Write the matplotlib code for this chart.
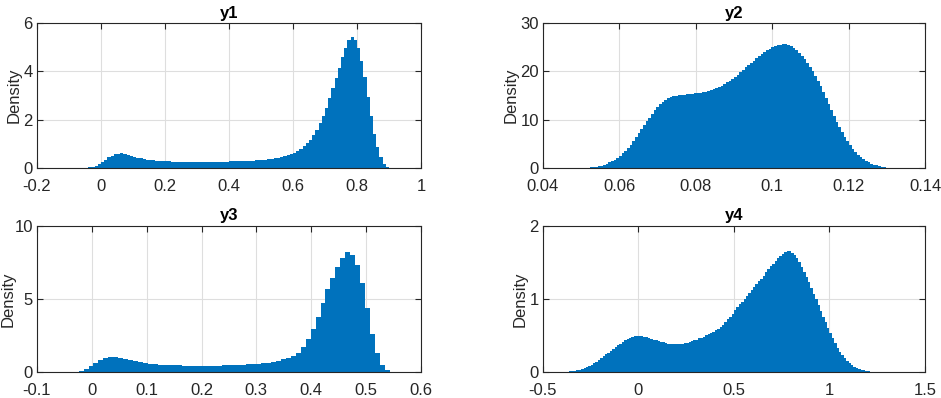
import numpy as np
import matplotlib
matplotlib.use('Agg')
import matplotlib.pyplot as plt

plt.rcParams['font.family'] = ['Liberation Sans', 'DejaVu Sans']
plt.rcParams['axes.unicode_minus'] = False

# ---- data (bin heights, density) ----
# y1: bins of 0.01 from -0.05
y1_start, y1_width = -0.05, 0.01
y1_heights = [
    0.01, 0.02, 0.04, 0.08, 0.15, 0.25, 0.35, 0.44, 0.51, 0.56,
    0.59, 0.60, 0.58, 0.55, 0.51, 0.47, 0.43, 0.40, 0.37, 0.35,
    0.33, 0.31, 0.30, 0.29, 0.28, 0.27, 0.27, 0.26, 0.26, 0.26,
    0.25, 0.25, 0.25, 0.25, 0.25, 0.25, 0.25, 0.25, 0.25, 0.25,
    0.25, 0.25, 0.26, 0.26, 0.26, 0.27, 0.27, 0.27, 0.28, 0.28,
    0.29, 0.29, 0.30, 0.31, 0.32, 0.33, 0.34, 0.36, 0.38, 0.40,
    0.42, 0.45, 0.49, 0.53, 0.58, 0.64, 0.72, 0.80, 0.90, 1.02,
    1.17, 1.35, 1.58, 1.85, 2.15, 2.50, 2.88, 3.30, 3.72, 4.15,
    4.58, 4.98, 5.28, 5.42, 5.30, 4.95, 4.45, 3.75, 2.95, 2.15,
    1.40, 0.85, 0.45, 0.18, 0.05,
]

# y2: bins of 0.0007 from 0.0515
y2_start, y2_width = 0.0515, 0.0007
y2_heights = [
    0.07, 0.13, 0.20, 0.28, 0.38, 0.50, 0.68, 0.90, 1.15, 1.42,
    1.72, 2.10, 2.55, 3.05, 3.55, 4.15, 4.85, 5.65, 6.45, 7.25,
    8.05, 8.85, 9.65, 10.40, 11.20, 11.95, 12.60, 13.20, 13.75, 14.15,
    14.45, 14.70, 14.85, 15.00, 15.10, 15.15, 15.20, 15.25, 15.30, 15.35,
    15.45, 15.50, 15.55, 15.65, 15.75, 15.90, 16.05, 16.25, 16.50, 16.75,
    17.05, 17.35, 17.70, 18.05, 18.45, 18.90, 19.35, 19.85, 20.35, 20.85,
    21.30, 21.80, 22.25, 22.70, 23.15, 23.60, 24.00, 24.35, 24.65, 24.95,
    25.20, 25.40, 25.50, 25.60, 25.60, 25.50, 25.25, 24.85, 24.35, 23.80,
    23.20, 22.55, 21.80, 21.00, 20.10, 19.10, 18.00, 16.90, 15.75, 14.55,
    13.30, 12.05, 10.80, 9.60, 8.45, 7.40, 6.40, 5.50, 4.70, 3.95,
    3.30, 2.75, 2.25, 1.85, 1.50, 1.20, 0.92, 0.70, 0.52, 0.37,
    0.25, 0.15, 0.07,
]

# y3: bins of 0.009 from -0.033
y3_start, y3_width = -0.033, 0.009
y3_heights = [
    0.03, 0.08, 0.20, 0.38, 0.60, 0.80, 0.95, 1.03, 1.03, 0.98,
    0.90, 0.82, 0.74, 0.67, 0.61, 0.57, 0.54, 0.51, 0.49, 0.47,
    0.46, 0.45, 0.44, 0.43, 0.43, 0.42, 0.42, 0.43, 0.43, 0.44,
    0.45, 0.46, 0.47, 0.48, 0.50, 0.52, 0.54, 0.57, 0.61, 0.65,
    0.71, 0.78, 0.87, 0.98, 1.12, 1.30, 1.70, 2.25, 2.95, 3.80,
    4.75, 5.65, 6.45, 7.20, 7.80, 8.20, 8.00, 7.35, 6.10, 4.40,
    2.60, 1.30, 0.50, 0.14, 0.03,
]

# y4: bins of 0.0125 from -0.3625
y4_start, y4_width = -0.3625, 0.0125
y4_heights = [
    0.010, 0.012, 0.018, 0.025, 0.033, 0.043, 0.055, 0.070, 0.085, 0.100,
    0.120, 0.140, 0.165, 0.190, 0.215, 0.240, 0.265, 0.290, 0.315, 0.340,
    0.365, 0.390, 0.415, 0.435, 0.455, 0.470, 0.480, 0.490, 0.495, 0.495,
    0.490, 0.485, 0.475, 0.465, 0.455, 0.445, 0.435, 0.425, 0.415, 0.405,
    0.395, 0.390, 0.385, 0.380, 0.380, 0.380, 0.385, 0.390, 0.395, 0.400,
    0.410, 0.420, 0.435, 0.445, 0.460, 0.470, 0.485, 0.500, 0.515, 0.530,
    0.550, 0.570, 0.595, 0.620, 0.650, 0.685, 0.720, 0.760, 0.800, 0.845,
    0.885, 0.925, 0.965, 1.005, 1.045, 1.080, 1.120, 1.160, 1.200, 1.240,
    1.280, 1.320, 1.365, 1.405, 1.445, 1.480, 1.520, 1.555, 1.590, 1.620,
    1.645, 1.660, 1.655, 1.635, 1.600, 1.555, 1.500, 1.440, 1.375, 1.305,
    1.230, 1.155, 1.075, 0.995, 0.915, 0.835, 0.755, 0.680, 0.600, 0.530,
    0.460, 0.395, 0.335, 0.280, 0.230, 0.185, 0.150, 0.120, 0.095, 0.072,
    0.055, 0.040, 0.030, 0.022, 0.015, 0.010, 0.006, 0.003,
]

titles = ['y1', 'y2', 'y3', 'y4']
x_ticks = [
    [-0.2, 0, 0.2, 0.4, 0.6, 0.8, 1],
    [0.04, 0.06, 0.08, 0.1, 0.12, 0.14],
    [-0.1, 0, 0.1, 0.2, 0.3, 0.4, 0.5, 0.6],
    [-0.5, 0, 0.5, 1, 1.5],
]
x_labels = [
    ['-0.2', '0', '0.2', '0.4', '0.6', '0.8', '1'],
    ['0.04', '0.06', '0.08', '0.1', '0.12', '0.14'],
    ['-0.1', '0', '0.1', '0.2', '0.3', '0.4', '0.5', '0.6'],
    ['-0.5', '0', '0.5', '1', '1.5'],
]
y_ticks = [[0, 2, 4, 6], [0, 10, 20, 30], [0, 5, 10], [0, 1, 2]]

series = [
    (y1_start, y1_width, y1_heights),
    (y2_start, y2_width, y2_heights),
    (y3_start, y3_width, y3_heights),
    (y4_start, y4_width, y4_heights),
]

bar_color = '#0072BD'
txt_color = '#262626'

fig = plt.figure(figsize=(9.41, 3.98), dpi=100)
rects = [
    [0.0393, 0.578, 0.408, 0.364],
    [0.577, 0.578, 0.406, 0.364],
    [0.0393, 0.0653, 0.408, 0.367],
    [0.577, 0.0653, 0.406, 0.367],
]

for k in range(4):
    ax = fig.add_axes(rects[k])
    start, width, heights = series[k]
    edges = start + width * np.arange(len(heights) + 1)
    ax.stairs(heights, edges, fill=True, color=bar_color, linewidth=0)

    ax.set_xlim(x_ticks[k][0], x_ticks[k][-1])
    ax.set_ylim(y_ticks[k][0], y_ticks[k][-1])
    ax.set_xticks(x_ticks[k])
    ax.set_xticklabels(x_labels[k])
    ax.set_yticks(y_ticks[k])
    ax.set_yticklabels([str(v) for v in y_ticks[k]])

    ax.grid(True, color='#dedede', linewidth=0.8)
    ax.set_axisbelow(True)
    ax.tick_params(direction='in', length=4, width=0.8, colors=txt_color,
                   labelsize=12, top=True, right=True)
    ax.tick_params(axis='x', pad=8)
    ax.tick_params(axis='y', pad=3)
    for s in ax.spines.values():
        s.set_color(txt_color)
        s.set_linewidth(0.8)

    ax.set_title(titles[k], fontsize=12, fontweight='bold', pad=4)
    ax.set_ylabel('Density', fontsize=12, color=txt_color, labelpad=1)
    if k == 2:
        # wider "10" tick label pushes the label to the figure edge
        ax.yaxis.set_label_coords(-0.056, 0.5)

fig.savefig('out.png', dpi=100)
